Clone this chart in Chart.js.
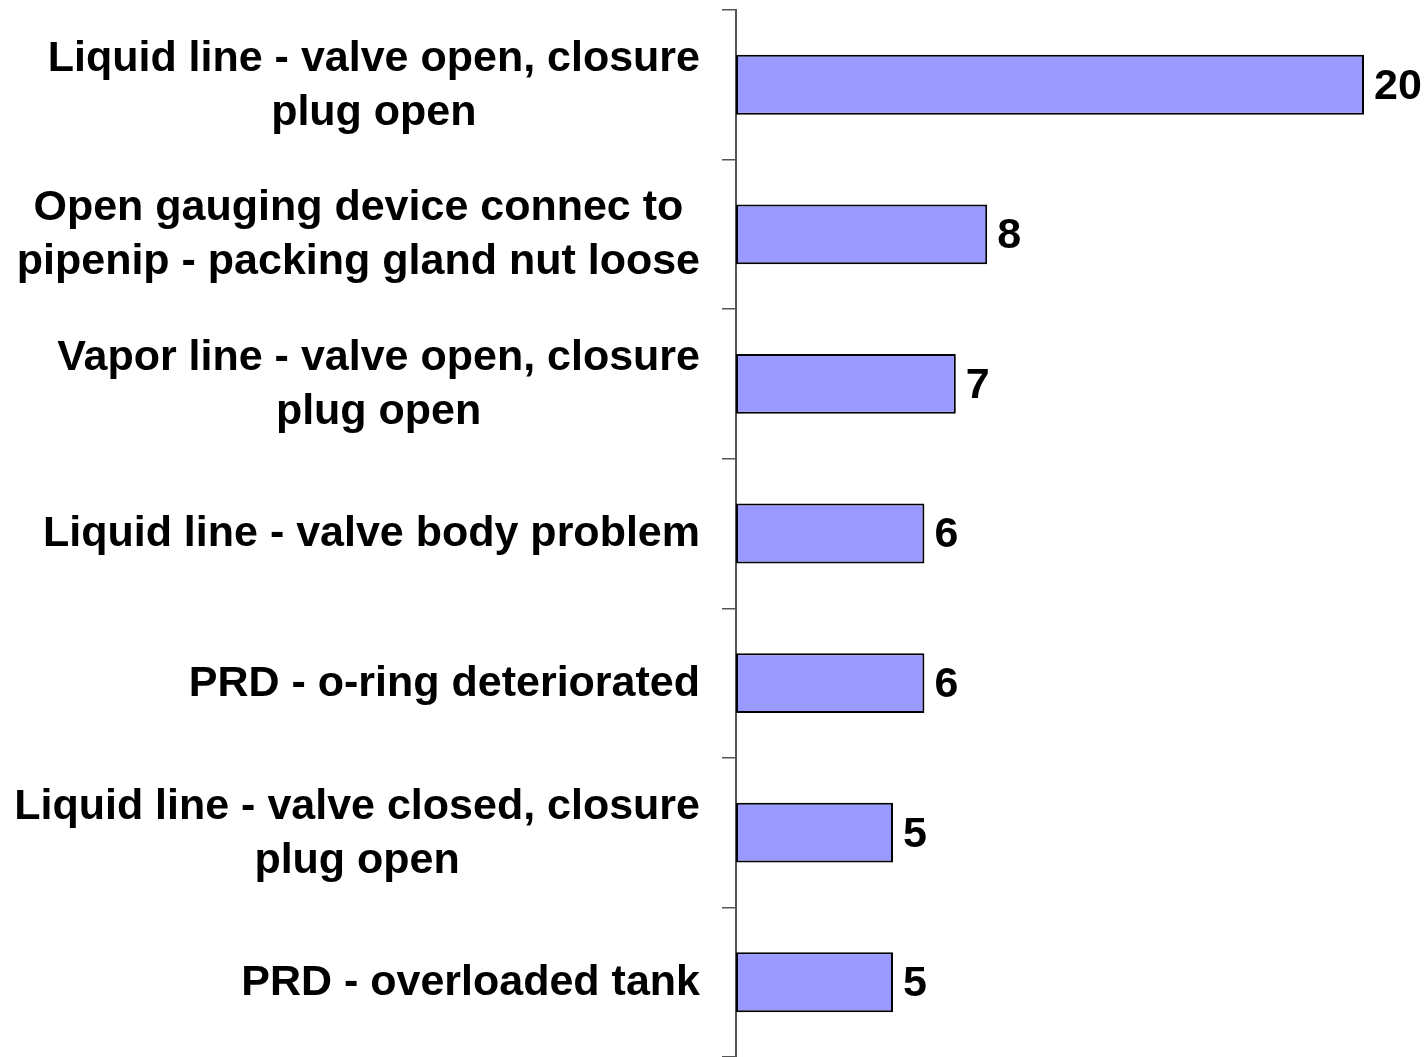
<!DOCTYPE html>
<html>
<head>
<meta charset="utf-8">
<script src="https://cdn.jsdelivr.net/npm/chart.js@4"></script>
<style>
  body { margin: 0; background: #fff; }
  #wrap { width: 1428px; height: 1057px; }
</style>
</head>
<body>
<div id="wrap"><canvas id="leakChart"></canvas></div>
<script>
const categories = [
    ["Liquid line - valve open, closure", "plug open"],
    ["Open gauging device connec to", "pipenip - packing gland nut loose"],
    ["Vapor line - valve open, closure", "plug open"],
    ["Liquid line - valve body problem"],
    ["PRD - o-ring deteriorated"],
    ["Liquid line - valve closed, closure", "plug open"],
    ["PRD - overloaded tank"]
];
const counts = [20, 8, 7, 6, 6, 5, 5];

const FONT = 'bold 43px "Liberation Sans", Arial, sans-serif';

// draws the category labels (right aligned block, lines centred) and the value labels
const labelPlugin = {
    id: 'labels',
    afterDraw(chart) {
        const ctx = chart.ctx;
        const y = chart.scales.y;
        const x = chart.scales.x;
        ctx.save();
        ctx.font = FONT;
        ctx.fillStyle = '#000';
        ctx.textBaseline = 'middle';
        categories.forEach((lines, i) => {
            const cy = y.getPixelForValue(i);
            const maxw = Math.max(...lines.map(l => ctx.measureText(l).width));
            const cx = 700 - maxw / 2;
            const lh = 54;
            const y0 = cy - (lines.length - 1) * lh / 2;
            ctx.textAlign = 'center';
            lines.forEach((l, k) => ctx.fillText(l, cx, y0 + k * lh + 1));
            ctx.textAlign = 'left';
            ctx.fillText(String(counts[i]), x.getPixelForValue(counts[i]) + 10, cy + 2);
        });
        ctx.restore();
    }
};

new Chart(document.getElementById('leakChart'), {
    type: 'bar',
    data: {
        labels: categories,
        datasets: [{
            data: counts,
            backgroundColor: '#9999ff',
            borderColor: '#000',
            borderWidth: 2,
            borderSkipped: false,
            categoryPercentage: 1,
            barPercentage: 0.4
        }]
    },
    options: {
        indexAxis: 'y',
        responsive: true,
        maintainAspectRatio: false,
        animation: false,
        layout: { padding: { top: 10, right: 64, bottom: 0, left: 0 } },
        plugins: { legend: { display: false }, tooltip: { enabled: false } },
        scales: {
            x: { display: false, min: 0, max: 20 },
            y: {
                ticks: { display: false },
                grid: { drawOnChartArea: false, tickLength: 14, color: '#555', lineWidth: 1.5, offset: true },
                border: { color: '#555', width: 2 },
                afterFit(scale) { scale.width = 736; }
            }
        }
    },
    plugins: [labelPlugin]
});
</script>
</body>
</html>
